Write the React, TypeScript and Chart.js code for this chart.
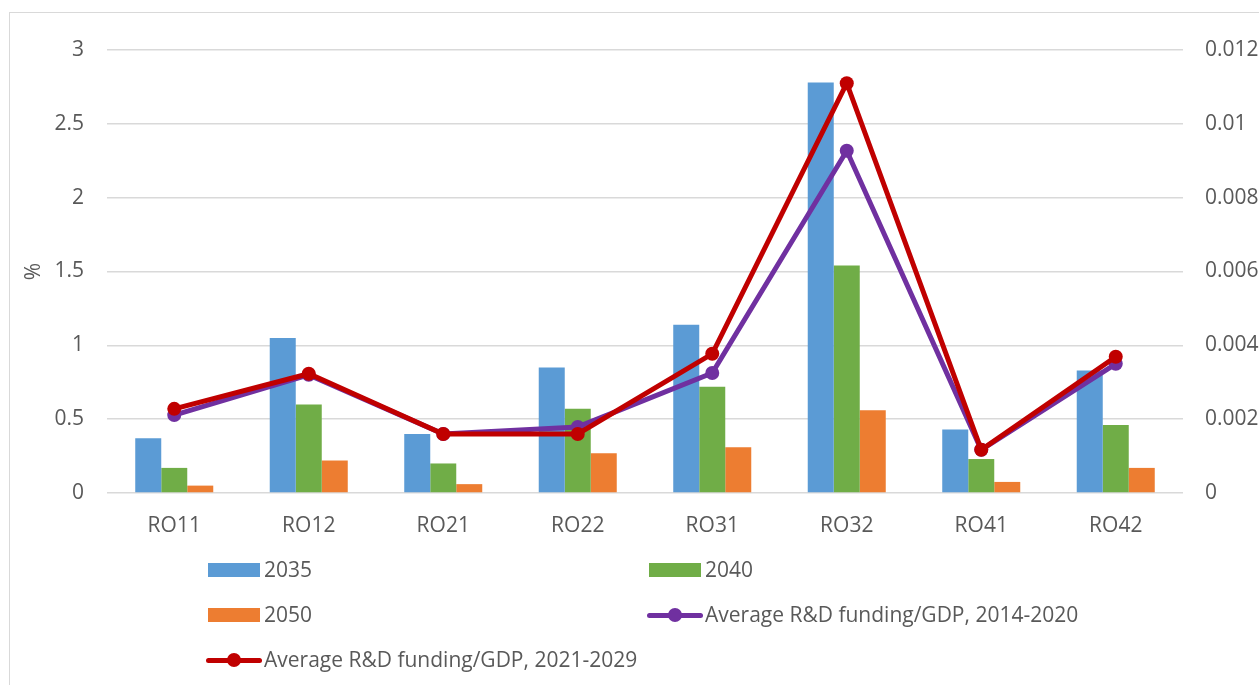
import React, { useEffect, useRef } from "react";
import { Chart, registerables } from "chart.js";

Chart.register(...registerables);

const categories = ["RO11", "RO12", "RO21", "RO22", "RO31", "RO32", "RO41", "RO42"];
const s2035 = [0.37, 1.05, 0.4, 0.85, 1.14, 2.78, 0.43, 0.83];
const s2040 = [0.17, 0.6, 0.2, 0.57, 0.72, 1.54, 0.23, 0.46];
const s2050 = [0.05, 0.22, 0.06, 0.27, 0.31, 0.56, 0.075, 0.17];
const rd2014 = [0.00211, 0.0032, 0.0016, 0.00179, 0.00325, 0.00927, 0.00117, 0.0035];
const rd2021 = [0.00228, 0.00323, 0.0016, 0.0016, 0.00377, 0.0111, 0.00117, 0.00369];

const labels = [
  "2035",
  "2040",
  "2050",
  "Average R&D funding/GDP, 2014-2020",
  "Average R&D funding/GDP, 2021-2029",
];
const colors = ["#5B9BD5", "#70AD47", "#ED7D31", "#7030A0", "#C00000"];

const FONT = "'Open Sans', sans-serif";
const FS = 21;
const TXT = "#595959";
const GRID = "#D9D9D9";

const fmt = (v: any) => String(Number(Number(v).toFixed(4)));

export default function App() {
  const ref = useRef<HTMLCanvasElement | null>(null);
  useEffect(() => {
    if (!ref.current) return;
    const chart = new Chart(ref.current, {
      type: "bar",
      data: {
        labels: categories,
        datasets: [
          { type: "bar", label: labels[0], data: s2035, backgroundColor: colors[0], yAxisID: "y", order: 3, categoryPercentage: 0.58, barPercentage: 1 },
          { type: "bar", label: labels[1], data: s2040, backgroundColor: colors[1], yAxisID: "y", order: 3, categoryPercentage: 0.58, barPercentage: 1 },
          { type: "bar", label: labels[2], data: s2050, backgroundColor: colors[2], yAxisID: "y", order: 3, categoryPercentage: 0.58, barPercentage: 1 },
          { type: "line", label: labels[3], data: rd2014, borderColor: colors[3], backgroundColor: colors[3], yAxisID: "y1", order: 2, borderWidth: 5, pointRadius: 7, pointBorderWidth: 0, tension: 0 },
          { type: "line", label: labels[4], data: rd2021, borderColor: colors[4], backgroundColor: colors[4], yAxisID: "y1", order: 1, borderWidth: 5, pointRadius: 7, pointBorderWidth: 0, tension: 0 },
        ] as any,
      },
      options: {
        responsive: false,
        animation: false,
        layout: { padding: { top: 50, left: 0, right: 0, bottom: 0 } },
        plugins: { legend: { display: false }, tooltip: { enabled: false } },
        scales: {
          x: {
            grid: { display: false },
            border: { display: false },
            ticks: { color: TXT, font: { family: FONT, size: FS }, padding: 12 },
            afterFit: (s: any) => { s.height = 192; },
          },
          y: {
            position: "left",
            min: 0,
            max: 3,
            ticks: { stepSize: 0.5, color: TXT, font: { family: FONT, size: FS }, padding: 23, callback: fmt },
            grid: { color: GRID, lineWidth: 1.5, drawTicks: false },
            border: { display: false },
            title: { display: true, text: "%", color: TXT, font: { family: FONT, size: FS }, padding: { top: 21, bottom: 0 } },
            afterFit: (s: any) => { s.width = 107; },
          },
          y1: {
            position: "right",
            min: 0,
            max: 0.012,
            ticks: { stepSize: 0.002, color: TXT, font: { family: FONT, size: FS }, padding: 22, callback: fmt },
            grid: { display: false, drawTicks: false },
            border: { display: false },
            afterFit: (s: any) => { s.width = 76; },
          },
        },
      } as any,
    });
    return () => chart.destroy();
  }, []);

  const legendItems = [
    { i: 0, x: 208, y: 570 },
    { i: 1, x: 649, y: 570 },
    { i: 2, x: 208, y: 615 },
    { i: 3, x: 649, y: 615 },
    { i: 4, x: 208, y: 660 },
  ];

  return (
    <div style={{ position: "fixed", left: 0, top: 0, width: 1259, height: 685, background: "#fff", overflow: "hidden" }}>
      <div style={{ position: "absolute", left: 9, top: 12, width: 1300, height: 800, border: `1.5px solid ${GRID}` }} />
      <canvas ref={ref} width={1259} height={685} style={{ position: "absolute", left: 0, top: 0 }} />
      {legendItems.map(({ i, x, y }) => {
        const isLine = i >= 3;
        return (
          <div key={i} style={{ position: "absolute", left: x - 2, top: y - 11 }}>
            {isLine ? (
              <div style={{ position: "absolute", left: 0, top: 11 - 2.5, width: 56, height: 5, background: colors[i], borderRadius: 2.5 }}>
                <div style={{ position: "absolute", left: 21, top: -4.5, width: 14, height: 14, borderRadius: 7, background: colors[i] }} />
              </div>
            ) : (
              <div style={{ position: "absolute", left: 2, top: 4, width: 52, height: 14, background: colors[i] }} />
            )}
            <div style={{ position: "absolute", left: 58, top: -0.5, whiteSpace: "nowrap", fontFamily: FONT, fontSize: FS, lineHeight: "21px", color: TXT }}>
              {labels[i]}
            </div>
          </div>
        );
      })}
    </div>
  );
}
